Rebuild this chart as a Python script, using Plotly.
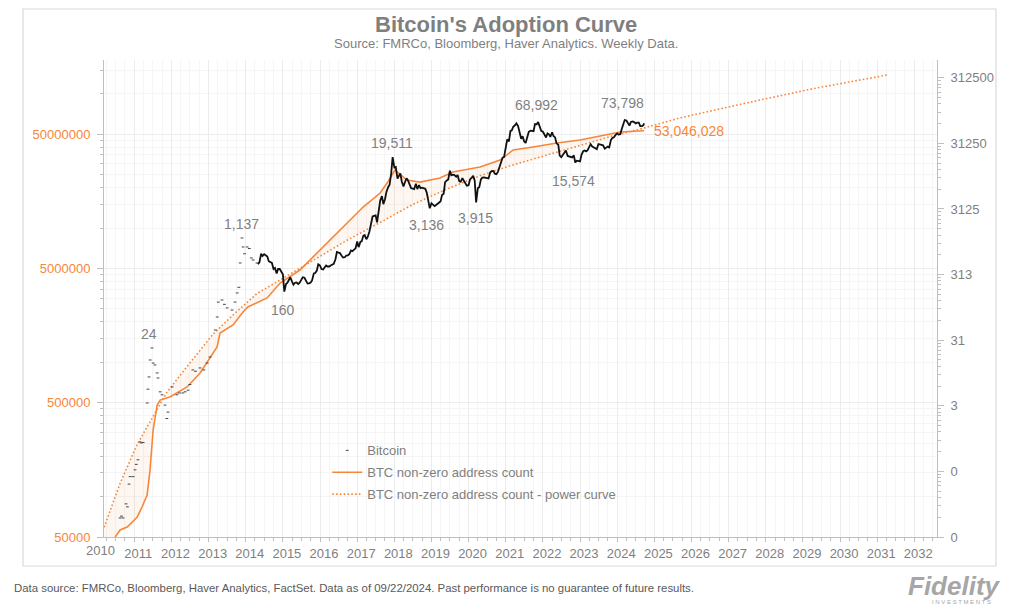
import math
import pandas as pd
import plotly.graph_objects as go

# ---------------- data ----------------
# BTC non-zero address count (left axis)
addr_dates = ["2010-06-20", "2010-08-14", "2010-10-23", "2011-01-30", "2011-03-18", "2011-05-07",
              "2011-06-05", "2011-07-05", "2011-08-14", "2011-09-12", "2011-12-17", "2012-06-03",
              "2012-10-09", "2013-03-25", "2013-04-23", "2013-08-29", "2013-12-05", "2014-01-22",
              "2014-07-30", "2014-12-05", "2015-06-18", "2015-10-24", "2016-04-08", "2016-09-22",
              "2017-02-28", "2017-08-14", "2017-10-22", "2018-01-07", "2018-05-04", "2018-09-09",
              "2019-03-25", "2019-07-31", "2020-04-23", "2020-11-06", "2021-03-14", "2021-09-27",
              "2022-05-19", "2023-01-01", "2023-09-23", "2024-01-30", "2024-09-22"]
addr_vals = [49000, 56400, 59300, 70500, 83600, 102800, 157800, 313000, 481000, 523000, 551000,
             655000, 832000, 1300000, 1652000, 1897000, 2367000, 2582000, 3013000, 3890000,
             4865000, 6080000, 8130000, 10880000, 14320000, 18200000, 21600000, 27000000,
             22750000, 21980000, 23550000, 26100000, 28450000, 32080000, 38100000, 40100000,
             42950000, 45200000, 49200000, 51900000, 53046028]

# Power curve of the address count (left axis)
power_dates = ["2010-03-10", "2010-08-15", "2011-01-30", "2011-07-05", "2011-11-18", "2012-06-03",
               "2013-02-13", "2013-08-29", "2014-04-21", "2014-12-05", "2015-10-24", "2016-09-22",
               "2017-08-14", "2018-07-04", "2019-06-03", "2020-04-23", "2021-03-14", "2022-02-10",
               "2023-11-20", "2024-09-02", "2025-09-08", "2027-06-30", "2029-04-09", "2031-04-06"]
power_vals = [59000, 126000, 245000, 400000, 600000, 930000, 1620000, 2250000, 3250000, 4100000,
              5700000, 8100000, 11000000, 15000000, 19500000, 24500000, 29500000, 35000000,
              48500000, 55000000, 66000000, 85500000, 109000000, 137700000]

# Bitcoin price, early sparse points (right axis)
btc_early_dates = ["2010-08-14", "2010-08-28", "2010-09-12", "2010-10-12", "2010-10-25", "2010-11-10",
                   "2010-11-21", "2010-12-20", "2011-01-08", "2011-01-20", "2011-02-06", "2011-02-28",
                   "2011-03-10", "2011-03-29", "2011-05-08", "2011-05-15", "2011-05-26", "2011-06-06",
                   "2011-06-24", "2011-07-05", "2011-07-23", "2011-08-14", "2011-08-22", "2011-09-12",
                   "2011-10-01", "2011-10-30", "2011-11-17", "2011-11-28", "2012-01-08", "2012-02-24",
                   "2012-03-20", "2012-04-22", "2012-05-15", "2012-06-13", "2012-07-01", "2012-07-30",
                   "2012-08-25", "2012-10-08", "2012-11-15", "2012-12-17", "2013-01-15", "2013-03-08",
                   "2013-03-26", "2013-04-06", "2013-05-12", "2013-06-05", "2013-07-02", "2013-08-19",
                   "2013-09-17", "2013-10-09", "2013-10-25", "2013-11-07", "2013-11-25", "2013-12-06",
                   "2013-12-20", "2014-01-15", "2014-02-05", "2014-02-25", "2014-03-14", "2014-04-22"]
btc_early_prices = [0.061, 0.065, 0.061, 0.10, 0.09, 0.20, 0.26, 0.26, 0.33, 0.40, 0.47, 0.88,
                    0.85, 0.86, 3.45, 5.6, 8.6, 15.6, 23.8, 14.0, 13.1, 9.9, 8.3, 5.1, 4.6, 3.2,
                    2.0, 2.5, 6.05, 4.6, 4.9, 4.9, 5.1, 5.4, 6.6, 11.0, 10.5, 11.8, 11.0, 14.0,
                    17.3, 44.7, 70.6, 119, 128, 110, 97, 90, 119, 164, 200, 470, 1130, 824, 650,
                    824, 780, 560, 522, 470]

# Bitcoin price, semi-monthly (1st and 15th) from May 2014 (right axis)
btc_2014 = [450, 480, 650, 600, 640, 620, 590, 500, 480, 470, 380, 395, 325, 380, 380, 350]
btc_2015 = [315, 172, 225, 235, 260, 285, 245, 220, 235, 237, 225, 235, 260, 285, 280, 260,
            228, 230, 237, 255, 325, 330, 360, 450]
btc_2016 = [430, 380, 375, 400, 430, 415, 415, 430, 450, 455, 535, 690, 675, 665, 605, 570,
            575, 610, 615, 640, 730, 710, 750, 780]
btc_2017 = [1000, 820, 985, 1010, 1220, 1250, 1080, 1180, 1420, 1750, 2400, 2450, 2500, 1950,
            2750, 4200, 4900, 3700, 4400, 5700, 6700, 7300, 10900, 19300]
btc_2018 = [13500, 13700, 9100, 10000, 10900, 8200, 6900, 8000, 9200, 8500, 7500, 6500, 6400,
            6300, 7600, 6300, 7200, 6500, 6600, 6400, 6350, 5600, 4000, 3200]
btc_2019 = [3800, 3600, 3450, 3600, 3800, 3900, 4100, 5100, 5350, 8000, 8500, 8800, 12000,
            10200, 10400, 10300, 9700, 10300, 8300, 8100, 9200, 8500, 7400, 7100]
btc_2020 = [7200, 8800, 9400, 10000, 8500, 3950, 6500, 6700, 8800, 9400, 9500, 9400, 9200, 9150,
            11300, 11800, 11900, 10800, 10600, 11500, 13800, 16000, 19000, 19400]
btc_2021 = [29000, 36000, 33500, 48000, 49500, 56000, 59000, 63000, 57800, 46500, 36700, 40200,
            33500, 31800, 40000, 47000, 48800, 48000, 48000, 61500, 61000, 66000, 57000, 48500]
btc_2022 = [47000, 43000, 38500, 44500, 43000, 39300, 46300, 40500, 38500, 31300, 29800, 20400,
            19300, 20800, 23300, 24300, 20100, 19700, 19300, 19100, 20500, 16000, 17000, 16800]
btc_2023 = [16600, 20900, 23700, 24300, 23600, 24500, 28500, 30400, 28000, 27200, 26800, 25600,
            30600, 30300, 29700, 29200, 25900, 26600, 27900, 27100, 35400, 37800, 38700, 42000]
btc_2024 = [44200, 42500, 43100, 51900, 62400, 71000, 69700, 63400, 58300, 66200, 67700, 66000,
            62900, 64700, 64600, 57500, 57300, 59200]
btc_last_date = "2024-09-22"
btc_last_price = 63000

# Labels
peak_labels = ["24", "1,137", "160", "19,511", "3,136", "3,915", "68,992", "15,574", "73,798"]
peak_label_dates = ["2011-05-27", "2013-11-16", "2015-01-04", "2017-12-05", "2018-11-17",
                    "2020-03-05", "2021-11-03", "2022-10-27", "2024-02-27"]
peak_label_prices = [38.8, 1845, 90, 31400, 1780, 2280, 120200, 8360, 127600]
last_addr_label = "53,046,028"

left_tickvals = [50000, 500000, 5000000, 50000000]
right_tickvals = [0.03125, 0.3125, 3.125, 31.25, 312.5, 3125, 31250, 312500]
right_ticktext = ["0", "0", "3", "31", "313", "3125", "31250", "312500"]
year_labels = list(range(2011, 2033))

# ---------------- styling ----------------
ORANGE = "#f7863a"
GRAY_TXT = "#7f7f7f"
AXIS = "#bfbfbf"
GRID = "#ececec"
GRID_MINOR = "#f5f5f5"
FONT = "Liberation Sans, Arial, sans-serif"

# assemble semi-monthly BTC series
btc_line_dates, btc_line_prices = [], []
for year, month, vals in [(2014, 5, btc_2014), (2015, 1, btc_2015), (2016, 1, btc_2016),
                          (2017, 1, btc_2017), (2018, 1, btc_2018), (2019, 1, btc_2019),
                          (2020, 1, btc_2020), (2021, 1, btc_2021), (2022, 1, btc_2022),
                          (2023, 1, btc_2023), (2024, 1, btc_2024)]:
    d = pd.date_range(f"{year}-{month:02d}-01", periods=len(vals), freq="SMS")
    btc_line_dates += [x.strftime("%Y-%m-%d") for x in d]
    btc_line_prices += vals
btc_line_dates.append(btc_last_date)
btc_line_prices.append(btc_last_price)

fig = go.Figure()

# shaded area between address count and its power curve
cut = [i for i, d in enumerate(power_dates) if d <= addr_dates[-1]]
fill_x = [power_dates[i] for i in cut] + addr_dates[::-1] + [power_dates[0]]
fill_y = [power_vals[i] for i in cut] + addr_vals[::-1] + [addr_vals[0]]
fig.add_trace(go.Scatter(x=fill_x, y=fill_y, mode="lines", fill="toself",
                         fillcolor="rgba(247,134,58,0.07)", line=dict(width=0),
                         showlegend=False, hoverinfo="skip", yaxis="y"))

fig.add_trace(go.Scatter(x=power_dates, y=power_vals, mode="lines",
                         name="BTC non-zero address count - power curve", legendgroup="c",
                         line=dict(color=ORANGE, width=1.6, dash="1.6px,2.2px"),
                         yaxis="y", legendrank=3))
fig.add_trace(go.Scatter(x=addr_dates, y=addr_vals, mode="lines",
                         name="BTC non-zero address count", legendgroup="b",
                         line=dict(color=ORANGE, width=1.6), yaxis="y", legendrank=2))

fig.add_trace(go.Scatter(x=btc_early_dates, y=btc_early_prices, mode="markers", name="Bitcoin",
                         legendgroup="a",
                         marker=dict(symbol="line-ew", size=2, color="#444",
                                     line=dict(width=1, color="#444")),
                         yaxis="y2", legendrank=1))
fig.add_trace(go.Scatter(x=btc_line_dates, y=btc_line_prices, mode="lines", showlegend=False,
                         line=dict(color="#111", width=1.8), yaxis="y2"))

# annotations
ann = []
for t, d, p in zip(peak_labels, peak_label_dates, peak_label_prices):
    ann.append(dict(x=d, y=math.log10(p), xref="x", yref="y2", text=t, showarrow=False,
                    font=dict(size=14, color=GRAY_TXT, family=FONT)))
ann.append(dict(x="2024-12-08", y=math.log10(52700000), xref="x", yref="y", text=last_addr_label,
                showarrow=False, xanchor="left", font=dict(size=14, color=ORANGE, family=FONT)))
ann.append(dict(x=-0.0042, y=-0.0273, xref="paper", yref="paper", text="2010", showarrow=False,
                xanchor="center", yanchor="middle", font=dict(size=13, color=GRAY_TXT, family=FONT)))
ann.append(dict(x=0.4826, y=1.0734, xref="paper", yref="paper", text="<b>Bitcoin's Adoption Curve</b>",
                showarrow=False, xanchor="center", yanchor="middle",
                font=dict(size=22, color=GRAY_TXT, family=FONT)))
ann.append(dict(x=0.4826, y=1.0356, xref="paper", yref="paper",
                text="Source: FMRCo, Bloomberg, Haver Analytics. Weekly Data.",
                showarrow=False, xanchor="center", yanchor="middle",
                font=dict(size=13, color=GRAY_TXT, family=FONT)))
ann.append(dict(x=-0.1104, y=-0.1069, xref="paper", yref="paper", xanchor="left", yanchor="middle",
                text="Data source: FMRCo, Bloomberg, Haver Analytics, FactSet. Data as of 09/22/2024. "
                     "Past performance is no guarantee of future results.",
                showarrow=False,
                font=dict(size=11.4, color="#595959", family=FONT)))
ann.append(dict(x=1.0216, y=-0.1027, xref="paper", yref="paper", text="<b><i>Fidelity</i></b>",
                showarrow=False, xanchor="center", yanchor="middle",
                font=dict(size=26, color="#a6a6a6", family=FONT)))
ann.append(dict(x=1.030, y=-0.136, xref="paper", yref="paper", text="I N V E S T M E N T S",
                showarrow=False, xanchor="center", yanchor="middle",
                font=dict(size=6, color="#a6a6a6", family=FONT)))

left_minor = [k * 5 * 10 ** e for e in range(4, 8) for k in range(2, 10)]
right_minor = [k * 3.125 * 10 ** e for e in range(-2, 6) for k in range(2, 10)]

fig.update_layout(
    width=1024, height=609,
    margin=dict(l=104, r=87, t=60, b=72),
    paper_bgcolor="white", plot_bgcolor="white",
    font=dict(family=FONT, color=GRAY_TXT, size=13),
    annotations=ann,
    shapes=[dict(type="rect", xref="paper", yref="paper", x0=-0.0972, x1=1.0708, y0=-0.0608,
                 y1=1.1069, line=dict(color="#d9d9d9", width=1.2), layer="below")],
    xaxis=dict(type="date", range=["2010-03-09", "2032-08-11"],
               tickvals=[f"{y}-01-01" for y in year_labels], ticktext=[str(y) for y in year_labels],
               ticklabelshift=4, ticks="outside", ticklen=4, tickcolor=AXIS,
               showline=True, linecolor=AXIS, showgrid=True, gridcolor=GRID, zeroline=False,
               tickfont=dict(size=13, color=GRAY_TXT),
               minor=dict(tickmode="linear", tick0="2010-01-01", dtick="M3", ticks="outside",
                          ticklen=3, tickcolor=AXIS, showgrid=True, gridcolor=GRID_MINOR)),
    yaxis=dict(type="log", range=[math.log10(50000), 8.251], tickvals=left_tickvals,
               ticktext=[str(v) for v in left_tickvals], tickfont=dict(size=13, color=ORANGE),
               ticks="outside", ticklen=6, tickcolor=AXIS, showline=True, linecolor=AXIS,
               showgrid=True, gridcolor=GRID, zeroline=False, ticklabelstandoff=4,
               minor=dict(tickvals=left_minor, ticks="outside", ticklen=3, tickcolor=AXIS,
                          showgrid=True, gridcolor=GRID_MINOR)),
    yaxis2=dict(type="log", overlaying="y", side="right", range=[math.log10(0.03125), 5.766],
                tickvals=right_tickvals, ticktext=right_ticktext,
                tickfont=dict(size=13, color=GRAY_TXT), ticks="outside", ticklen=6,
                tickcolor=AXIS, showline=True, linecolor=AXIS, showgrid=False, zeroline=False,
                ticklabelstandoff=4,
                minor=dict(tickvals=right_minor, ticks="outside", ticklen=3, tickcolor=AXIS,
                           showgrid=False)),
    legend=dict(x=0.268, y=0.213, xanchor="left", yanchor="top", bgcolor="rgba(0,0,0,0)",
                font=dict(size=13, color=GRAY_TXT), itemwidth=30, tracegroupgap=2,
                traceorder="grouped"),
)

fig.write_html("out.html")
